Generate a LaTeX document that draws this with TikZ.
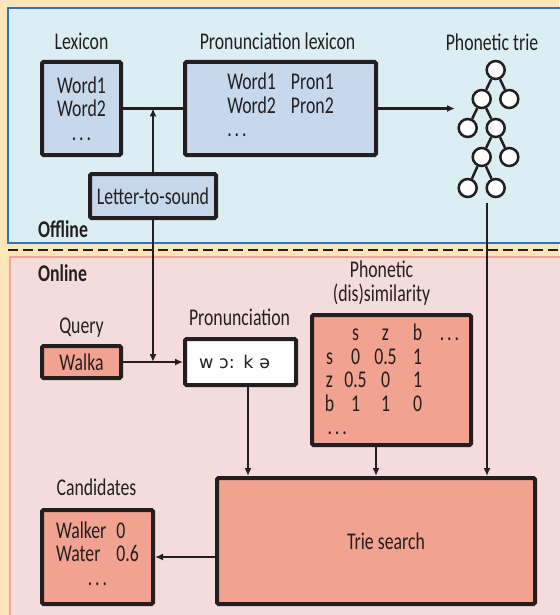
\documentclass[tikz,border=0pt]{standalone}
\usepackage{fontspec}
\usepackage{array}
\setmainfont[FakeStretch=0.74]{Carlito}
\newfontfamily\ipafont{DejaVu Sans}
\usetikzlibrary{arrows.meta}

\definecolor{ink}{HTML}{231F20}
\definecolor{peach}{HTML}{FDE5BA}
\definecolor{offbg}{HTML}{DAEEF3}
\definecolor{offline}{HTML}{2E75B6}
\definecolor{onbg}{HTML}{F4DCDC}
\definecolor{online}{HTML}{F2A598}
\definecolor{bluebox}{HTML}{C6D9EC}
\definecolor{salmon}{HTML}{F1A291}

\newcommand{\dotsrow}{.\hspace{3pt}.\hspace{3pt}.}

\tikzset{
  box/.style={draw=ink, line width=4pt, rounded corners=1.5pt, text=ink, inner sep=0pt},
  offbox/.style={box, fill=bluebox},
  onbox/.style={box, fill=salmon},
  region/.style={line width=2.5pt},
  lbl/.style={anchor=base, text=ink, inner sep=0pt},
  trienode/.style={circle, draw=ink, fill=white, line width=2.5pt, minimum size=18pt, inner sep=0pt},
  conn/.style={draw=ink, line width=2.2pt},
}

\begin{document}
\begin{tikzpicture}[x=1pt, y=-1pt, font=\fontsize{24}{23.5}\selectfont,
    >={Latex[length=8pt,width=7pt]}]
    \useasboundingbox (0,0) rectangle (559,615);
    \fill[peach] (0,0) rectangle (559,615);

    % offline / online areas
    \draw[region, draw=offline, fill=offbg] (8,8) rectangle (575,243);
    \draw[region, draw=online, fill=onbg] (10,257) rectangle (575,630);
    \draw[ink, line width=2.5pt, dash pattern=on 10pt off 5pt] (8,250) -- (559,250);
    \node[lbl, anchor=base west, font=\fontsize{24}{23.5}\selectfont\bfseries] (offlbl) at (38,237) {Offline};
    \node[lbl, anchor=base west, font=\fontsize{24}{23.5}\selectfont\bfseries] (onlbl) at (38,281) {Online};

    % offline part
    \node[offbox, minimum width=79pt, minimum height=93pt, align=center] (lex) at (81.5,108.5)
        {Word1\\Word2\\\dotsrow};
    \node[offbox, minimum width=191pt, minimum height=93pt] (plex) at (280.5,108.5)
        {\begin{tabular}{@{}l@{\hspace{15pt}}l@{}}Word1 & Pron1\\Word2 & Pron2\\\dotsrow & \end{tabular}};
    \node[offbox, minimum width=126pt, minimum height=44pt] (lts) at (153,196) {Letter-to-sound};
    \node[lbl] (lexlbl) at ([yshift=10pt]lex.north) {Lexicon};
    \node[lbl] (plexlbl) at ([xshift=-3pt,yshift=10pt]plex.north) {Pronunciation lexicon};
    \node[lbl] (trielbl) at (492,51) {Phonetic trie};

    % phonetic trie
    \foreach \n/\x/\y in {t1/495.7/70, t2/481.7/99, t3/509.3/99, t4/467.7/128, t5/495.7/128,
                          t6/481.7/157, t7/509.3/157, t8/467.7/188, t9/495.7/188}
        \node[trienode] (\n) at (\x,\y) {};
    \foreach \a/\b in {t1/t2, t1/t3, t2/t4, t2/t5, t5/t6, t5/t7, t6/t8, t6/t9}
        \draw[ink, line width=2.5pt] (\a) -- (\b);

    % online part
    \node[onbox, minimum width=79pt, minimum height=32pt] (query) at (81.5,362) {Walka};
    \node[box, fill=white, minimum width=111pt, minimum height=46pt, text width=83pt,
          inner xsep=14pt, align=left, font=\ipafont\fontsize{17.5}{20}\selectfont] (pron) at (240.5,362)
        {w ɔ: k ə};
    \node[onbox, minimum width=159pt, minimum height=130pt] (sim) at (391.5,380)
        {\setlength{\tabcolsep}{0pt}%
         \raisebox{-3pt}[\height][\depth]{%
         \begin{tabular}{@{}w{c}{22pt}w{c}{30pt}w{c}{30pt}w{c}{34pt}w{c}{30pt}@{}}
           & s & z & b & \dotsrow\\
         s & 0 & 0.5 & 1 & \\
         z & 0.5 & 0 & 1 & \\
         b & 1 & 1 & 0 & \\
         \multicolumn{2}{@{\hspace{9pt}}l}{\dotsrow} & & &
         \end{tabular}}};
    \node[onbox, minimum width=318pt, minimum height=126pt] (search) at (376,541)
        {\hspace*{20pt}Trie search};
    \node[onbox, minimum width=111pt, minimum height=94pt] (cand) at (97.5,557)
        {\begin{tabular}{@{}l@{\hspace{10pt}}l@{}}Walker & 0\\Water & 0.6\\\multicolumn{2}{c}{\dotsrow}\end{tabular}};
    \node[lbl] (querylbl) at ([yshift=11pt]query.north) {Query};
    \node[lbl] (pronlbl) at ([xshift=-1pt,yshift=12pt]pron.north) {Pronunciation};
    \node[lbl, align=center] (simlbl) at ([xshift=-10pt,yshift=12pt]sim.north) {Phonetic\\(dis)similarity};
    \node[lbl] (candlbl) at ([xshift=-1pt,yshift=13pt]cand.north) {Candidates};

    % connectors
    \coordinate (lexjoin) at (153,108.5);
    \coordinate (qjoin) at (153,362);
    \coordinate (triein) at (455,108.5);
    \coordinate (trieout) at (487,203);
    \draw[conn] (lex.east) -- (plex.west);
    \draw[conn,->] (lts) -- (lexjoin);
    \draw[conn,->] (lts) -- (qjoin);
    \draw[conn,->] (query) -- (pron);
    \draw[conn,->] (plex) -- (triein);
    \draw[conn,->] (trieout) -- (trieout |- search.north);
    \draw[conn,->] ([xshift=7.5pt]pron.south) -- ([xshift=7.5pt]pron.south |- search.north);
    \draw[conn,->] ([xshift=-15.5pt]sim.south) -- ([xshift=-15.5pt]sim.south |- search.north);
    \draw[conn,->] (search.west |- cand.east) -- (cand.east);
\end{tikzpicture}
\end{document}
